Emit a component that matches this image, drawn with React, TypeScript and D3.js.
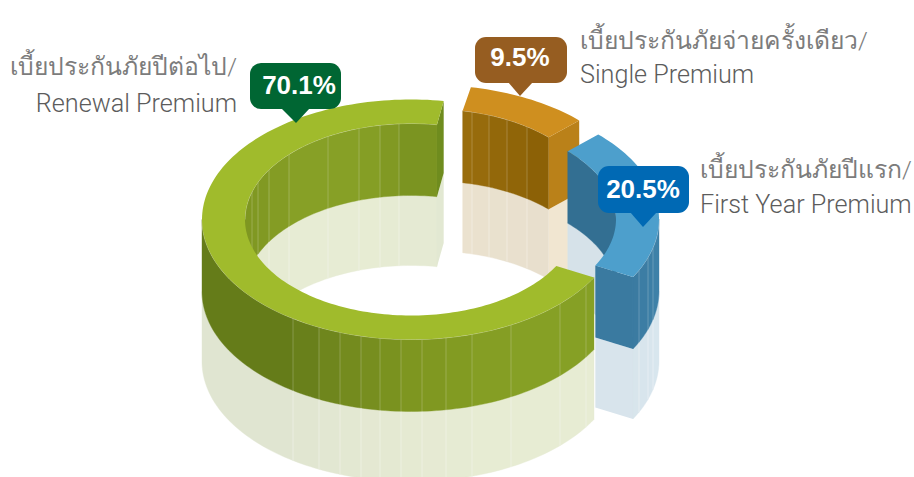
import React from "react";
import * as d3 from "d3";

const categories = ["Single Premium", "First Year Premium", "Renewal Premium"];
const thaiNames = ["เบี้ยประกันภัยจ่ายครั้งเดียว/", "เบี้ยประกันภัยปีแรก/", "เบี้ยประกันภัยปีต่อไป/"];
const values = [9.5, 20.5, 70.1];
const valueLabels = ["9.5%", "20.5%", "70.1%"];
const topColors = ["#cf8f1f", "#4d9fcc", "#a0bb2c"];
const badgeColors = ["#965d21", "#0069b4", "#006633"];
const sideColors = ["#ba8119", "#3a7aa0", "#6f8c1e"];

// vertical facet seams, read as x pixel positions on each wall
const orangeInnerSeams = [472, 489, 507, 527];
const blueOuterSeams = [639, 648, 653];
const greenOuterSeams = [293, 319, 340, 361, 380, 401, 422, 446, 472, 511, 560, 586];
const greenInnerSeams = [252, 258, 269, 289, 328, 359, 380, 399, 417, 433, 438];

const W = 914, H = 477;
const OUTER = { rx: 209, ry: 120 };
const INNER = { rx: 166, ry: 96 };
const WALL = 72;
const REFLECT = 70;
const rad = (d: number) => (d * Math.PI) / 180;

const centers = [
  { cx: 431, cy: 205 },
  { cx: 450, cy: 219 },
  { cx: 411, cy: 219.5 },
];
const trimEnd = [0, 0, rad(2)];

const pie = d3.pie<number>().sort(null).startAngle(rad(11)).endAngle(rad(371));
const arcs = pie(values);

type E = { cx: number; cy: number; rx: number; ry: number };
const pt = (e: E, a: number, dy = 0): [number, number] => [e.cx + e.rx * Math.sin(a), e.cy - e.ry * Math.cos(a) + dy];
const sample = (a0: number, a1: number) => {
  const n = Math.max(2, Math.ceil(Math.abs(a1 - a0) / rad(1.5)));
  return d3.range(n + 1).map((i) => a0 + ((a1 - a0) * i) / n);
};
const line = d3.line();
const closed = (pts: [number, number][]) => line(pts)! + "Z";

const ribbon = (e: E, a0: number, a1: number, dyTop: number, dyBot: number) =>
  closed([...sample(a0, a1).map((a) => pt(e, a, dyTop)), ...sample(a1, a0).map((a) => pt(e, a, dyBot))]);

const pale = (c: string) => d3.interpolateRgb(c, "#ffffff")(0.8);

const greenOuterColor = d3.scaleLinear<string>().domain([202, 293, 340, 420, 511, 600]).range(["#647a18", "#667d1a", "#72891e", "#7f9720", "#86a025", "#86a025"]);
const greenInnerColor = d3.scaleLinear<string>().domain([244, 300, 360, 400, 445]).range(["#7e9621", "#87a026", "#87a026", "#7f9622", "#759020"]);
const orangeInnerColor = d3.scaleLinear<string>().domain([462, 550]).range(["#9a6e0e", "#8a5f05"]);
const blueOuterColor = d3.scaleLinear<string>().domain([632, 660]).range(["#3a7aa0", "#3f82a9"]);
const blueInnerColor = d3.scaleLinear<string>().domain([560, 620]).range(["#336f92", "#336f92"]);

// one faceted wall: seams split the arc into flat coloured panels
function Wall({ e, a0, a1, seams, color, toAngle, edge }: { e: E; a0: number; a1: number; seams: number[]; color: (x: number) => string; toAngle: (x: number) => number; edge: boolean }) {
  const cuts = [a0, ...seams.map(toAngle).filter((a) => a > Math.min(a0, a1) && a < Math.max(a0, a1)).sort((p, q) => (a0 < a1 ? p - q : q - p)), a1];
  const panels = d3.pairs(cuts);
  const cx = (a: number) => pt(e, a)[0];
  return (
    <g>
      {panels.map(([p, q], i) => (
        <g key={i}>
          <path d={ribbon(e, p, q, WALL, WALL + REFLECT)} fill={pale(color((cx(p) + cx(q)) / 2))} stroke={pale(color((cx(p) + cx(q)) / 2))} strokeWidth={0.4} />
          <path d={ribbon(e, p, q, 0, WALL)} fill={color((cx(p) + cx(q)) / 2)} stroke={color((cx(p) + cx(q)) / 2)} strokeWidth={0.4} />
        </g>
      ))}
      {cuts.slice(1, -1).map((a, i) => {
        const [x, y] = pt(e, a);
        return (
          <g key={i}>
            <line x1={x} x2={x} y1={y} y2={y + WALL} stroke="#fff" strokeOpacity={0.28} strokeWidth={0.8} />
            <line x1={x} x2={x} y1={y + WALL} y2={y + WALL + REFLECT} stroke="#fff" strokeOpacity={0.45} strokeWidth={0.8} />
          </g>
        );
      })}
      {edge && <path d={line(sample(a0, a1).map((a) => pt(e, a)))!} fill="none" stroke="#fff" strokeOpacity={0.45} strokeWidth={0.8} />}
    </g>
  );
}

function CutFace({ o, i, a, color }: { o: E; i: E; a: number; color: string }) {
  const po = pt(o, a), pi = pt(i, a);
  const quad = (d0: number, d1: number) => closed([[po[0], po[1] + d0], [po[0], po[1] + d1], [pi[0], pi[1] + d1], [pi[0], pi[1] + d0]]);
  return (
    <g>
      <path d={quad(WALL, WALL + REFLECT)} fill={pale(color)} />
      <path d={quad(0, WALL)} fill={color} />
    </g>
  );
}

function Top({ o, i, a0, a1, color }: { o: E; i: E; a0: number; a1: number; color: string }) {
  return <path d={closed([...sample(a0, a1).map((a) => pt(o, a)), ...sample(a1, a0).map((a) => pt(i, a))])} fill={color} />;
}

const badgeFont = "'Liberation Sans', sans-serif";
const labelFont = "Roboto, 'Liberation Sans', sans-serif";

const badges = [
  { x: 475, y: 37, w: 92, h: 46, tip: [520, 96], b0: 508, b1: 533, tx: 520, ty: 66 },
  { x: 598, y: 166, w: 91, h: 47, tip: [643, 227], b0: 630, b1: 657, tx: 643, ty: 198 },
  { x: 250, y: 63, w: 91, h: 46, tip: [296, 123], b0: 281, b1: 310, tx: 299, ty: 94 },
];
const labels = [
  { x: 580, anchor: "start", y0: 49, y1: 83 },
  { x: 700, anchor: "start", y0: 178, y1: 213 },
  { x: 237, anchor: "end", y0: 75, y1: 112 },
];

export default function App() {
  const ell = (k: number, r: { rx: number; ry: number }): E => ({ ...centers[k], ...r });
  const range = arcs.map((a, k) => ({ a0: a.startAngle, a1: a.endAngle - trimEnd[k] }));
  const [oO, oI] = [ell(0, OUTER), ell(0, INNER)];
  const [bO, bI] = [ell(1, OUTER), ell(1, INNER)];
  const [gO, gI] = [ell(2, OUTER), ell(2, INNER)];
  const backAngle = (e: E, lo: number) => (x: number) => {
    const a = Math.asin((x - e.cx) / e.rx);
    return a < lo ? a + 2 * Math.PI : a;
  };
  const frontAngle = (e: E) => (x: number) => Math.PI - Math.asin((x - e.cx) / e.rx);

  return (
    <svg width={W} height={H} style={{ position: "absolute", left: 0, top: 0, background: "#fff" }}>
      {/* green back wall */}
      <Wall e={gI} a0={rad(270)} a1={range[2].a1} seams={greenInnerSeams} color={greenInnerColor} toAngle={backAngle(gI, 0)} edge />
      <CutFace o={gO} i={gI} a={range[2].a1} color={sideColors[2]} />
      {/* orange */}
      <Wall e={oI} a0={range[0].a0} a1={range[0].a1} seams={orangeInnerSeams} color={orangeInnerColor} toAngle={backAngle(oI, 0)} edge />
      <CutFace o={oO} i={oI} a={range[0].a1} color={sideColors[0]} />
      <Top o={oO} i={oI} a0={range[0].a0} a1={range[0].a1} color={topColors[0]} />
      {/* blue */}
      <Wall e={bI} a0={range[1].a0} a1={rad(90)} seams={[]} color={blueInnerColor} toAngle={backAngle(bI, 0)} edge={false} />
      <CutFace o={bO} i={bI} a={range[1].a1} color={sideColors[1]} />
      <Wall e={bO} a0={rad(90)} a1={range[1].a1} seams={blueOuterSeams} color={blueOuterColor} toAngle={frontAngle(bO)} edge />
      <Top o={bO} i={bI} a0={range[1].a0} a1={range[1].a1} color={topColors[1]} />
      {/* green front */}
      <Wall e={gO} a0={range[2].a0} a1={rad(270)} seams={greenOuterSeams} color={greenOuterColor} toAngle={frontAngle(gO)} edge />
      <Top o={gO} i={gI} a0={range[2].a0} a1={range[2].a1} color={topColors[2]} />

      {badges.map((b, k) => (
        <g key={k}>
          <path d={closed([[b.b0, b.y + b.h - 1], [b.tip[0], b.tip[1]], [b.b1, b.y + b.h - 1]])} fill={badgeColors[k]} />
          <rect x={b.x} y={b.y} width={b.w} height={b.h} rx={11} fill={badgeColors[k]} />
          <text x={b.tx} y={b.ty} textAnchor="middle" fontFamily={badgeFont} fontWeight={700} fontSize={26} fill="#fff">{valueLabels[k]}</text>
        </g>
      ))}
      {labels.map((l, k) => (
        <g key={k} fontFamily={labelFont} fontWeight={300} textAnchor={l.anchor}>
          <text x={l.x} y={l.y0} fontSize={24.7} fill="#7c7c7c">{thaiNames[k]}</text>
          <text x={l.x} y={l.y1} fontSize={25.2} fill="#5c5c5c">{categories[k]}</text>
        </g>
      ))}
    </svg>
  );
}
